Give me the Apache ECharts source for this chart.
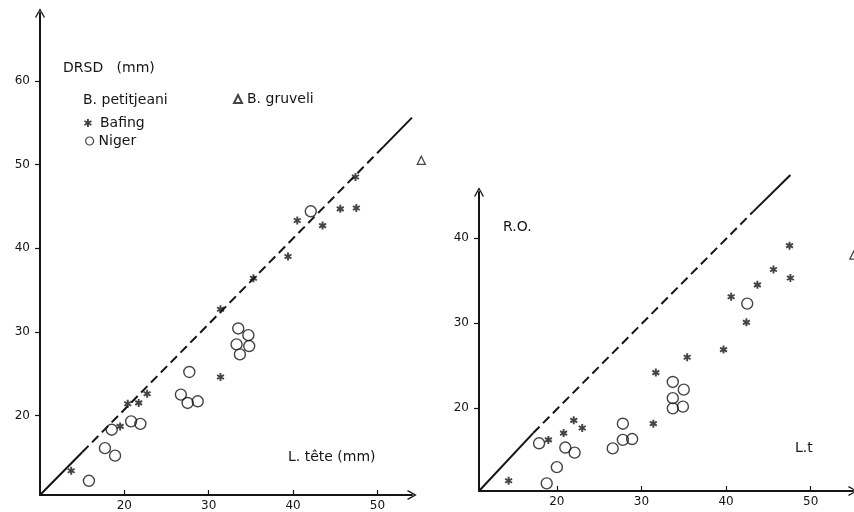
<!DOCTYPE html>
<html>
<head>
<meta charset="utf-8">
<script src="https://cdn.jsdelivr.net/npm/echarts@6/dist/echarts.min.js"></script>
<style>
  html, body { margin: 0; padding: 0; background: #fff; }
  #chart { width: 854px; height: 512px; }
</style>
</head>
<body>
<div id="chart"></div>
<script>
// values (x = L. tete, y = DRSD or R.O., mm)
const leftBafing = [[13.7, 13.4], [19.5, 18.7], [20.4, 21.4], [21.7, 21.5], [22.7, 22.6], [31.4, 24.6], [31.4, 32.7],
  [35.3, 36.4], [39.4, 39.0], [40.5, 43.3], [43.5, 42.7], [45.6, 44.7], [47.5, 44.8], [47.4, 48.5]]
const leftNiger = [[15.8, 12.2], [17.7, 16.1], [18.9, 15.2], [18.5, 18.3], [20.8, 19.3], [21.9, 19.0], [26.7, 22.5],
  [27.5, 21.5], [28.7, 21.7], [27.7, 25.2], [33.5, 30.4], [34.7, 29.6], [33.3, 28.5], [34.8, 28.3], [33.7, 27.3], [42.1, 44.4]]
const leftGruveli = [[55.2, 50.5]]

const rightBafing = [[14.3, 11.5], [19.0, 16.3], [20.8, 17.1], [22.0, 18.6], [23.0, 17.7], [31.4, 18.2], [31.7, 24.2],
  [35.4, 26.0], [39.7, 26.9], [40.6, 33.1], [42.4, 30.1], [43.7, 34.5], [45.6, 36.3], [47.5, 39.1], [47.6, 35.3]]
const rightNiger = [[18.8, 11.2], [20.0, 13.1], [17.9, 15.9], [21.0, 15.4], [22.1, 14.8], [26.6, 15.3], [27.8, 16.3],
  [28.9, 16.4], [27.8, 18.2], [33.7, 23.1], [35.0, 22.2], [33.7, 21.2], [33.7, 20.0], [34.9, 20.2], [42.5, 32.3]]
const rightGruveli = [[55.1, 38.0]]

// reference line y = x : solid start, dashed middle, solid end
const leftRefLine = [[10, 10.5], [15, 15.6], [50.7, 52.1], [54.1, 55.6]]
const rightRefLine = [[10.8, 10.3], [17.2, 17.1], [43.2, 43.1], [47.6, 47.4]]

const leftXTicks = [20, 30, 40, 50]
const leftYTicks = [20, 30, 40, 50, 60]
const rightXTicks = [20, 30, 40, 50]
const rightYTicks = [20, 30, 40]

const ink = '#151515'
const font = '"DejaVu Sans", Verdana, sans-serif'
const star = 'path://M-1.2,5 L1.2,5 L1.2,-5 L-1.2,-5 Z M3.73,3.54 L4.93,1.46 L-3.73,-3.54 L-4.93,-1.46 Z M-4.93,1.46 L-3.73,3.54 L4.93,-1.46 L3.73,-3.54 Z'
const chevron = 'path://M0,0 L5,9 L3.8,9.6 L0,2.6 L-3.8,9.6 L-5,9 Z'

function xAxisOf(gridIndex, min, max, ticks) {
  return {
    type: 'value', gridIndex: gridIndex, min: min, max: max,
    splitLine: { show: false },
    axisLine: { lineStyle: { color: ink, width: 2 }, symbol: ['none', chevron], symbolSize: [10, 10] },
    axisTick: { inside: true, length: 5, lineStyle: { color: ink, width: 1.2 }, customValues: ticks },
    axisLabel: { color: ink, fontFamily: font, fontSize: 12, margin: 5, customValues: ticks }
  }
}
function yAxisOf(gridIndex, min, max, ticks) {
  return {
    type: 'value', gridIndex: gridIndex, min: min, max: max,
    splitLine: { show: false },
    axisLine: { lineStyle: { color: ink, width: 2 }, symbol: ['none', chevron], symbolSize: [10, 10] },
    axisTick: { length: 5, lineStyle: { color: ink, width: 1.2 }, customValues: ticks },
    axisLabel: { color: ink, fontFamily: font, fontSize: 12, margin: 10, padding: [0, 0, 6, 0], customValues: ticks }
  }
}
function refSeries(idx, pts, a, b, dashed) {
  return {
    type: 'line', xAxisIndex: idx, yAxisIndex: idx, data: pts.slice(a, b + 1),
    showSymbol: false, silent: true, animation: false, clip: false,
    lineStyle: { color: ink, width: 2, type: dashed ? [9, 5] : 'solid' }
  }
}
function scatter(idx, name, data, kind) {
  const s = { type: 'scatter', name: name, xAxisIndex: idx, yAxisIndex: idx, data: data, clip: false, animation: false }
  if (kind === 'star') {
    s.symbol = star; s.symbolSize = 8; s.symbolKeepAspect = true
    s.itemStyle = { color: ink }
  } else if (kind === 'circle') {
    s.symbol = 'circle'; s.symbolSize = 11
    s.itemStyle = { color: 'transparent', borderColor: ink, borderWidth: 1.4 }
  } else {
    s.symbol = 'triangle'; s.symbolSize = 8
    s.itemStyle = { color: 'transparent', borderColor: ink, borderWidth: 1.3 }
  }
  return s
}

const legendText = { color: ink, fontFamily: font, fontSize: 14 }

const chart = echarts.init(document.getElementById('chart'))
chart.setOption({
  backgroundColor: '#fff',
  animation: false,
  grid: [
    { left: 40, top: 13, width: 372, height: 484 },
    { left: 479, top: 192, width: 374, height: 299 }
  ],
  xAxis: [xAxisOf(0, 10, 54.1, leftXTicks), xAxisOf(1, 10.8, 55, rightXTicks)],
  yAxis: [yAxisOf(0, 10.5, 68.1, leftYTicks), yAxisOf(1, 10.3, 45.4, rightYTicks)],
  legend: [
    { data: ['Bafing'], left: 84, top: 116, padding: 0, itemWidth: 14, itemHeight: 8, selectedMode: false, textStyle: legendText },
    { data: ['Niger'], left: 85, top: 134, padding: 0, itemWidth: 8, itemHeight: 8, selectedMode: false,
      itemStyle: { borderWidth: 1.2 }, textStyle: legendText },
    { data: ['B. gruveli'], left: 233, top: 92, padding: 0, itemWidth: 8, itemHeight: 8, selectedMode: false, textStyle: legendText }
  ],
  graphic: [
    { type: 'text', x: 63, y: 68, style: { text: 'DRSD   (mm)', fill: ink, font: '14px ' + font, verticalAlign: 'middle' } },
    { type: 'text', x: 83, y: 100, style: { text: 'B. petitjeani', fill: ink, font: '14px ' + font, verticalAlign: 'middle' } },
    { type: 'text', x: 288, y: 457, style: { text: 'L. tête (mm)', fill: ink, font: '14px ' + font, verticalAlign: 'middle' } },
    { type: 'text', x: 503, y: 227, style: { text: 'R.O.', fill: ink, font: '14px ' + font, verticalAlign: 'middle' } },
    { type: 'text', x: 795, y: 448, style: { text: 'L.t', fill: ink, font: '14px ' + font, verticalAlign: 'middle' } }
  ],
  series: [
    refSeries(0, leftRefLine, 0, 1, false),
    refSeries(0, leftRefLine, 1, 2, true),
    refSeries(0, leftRefLine, 2, 3, false),
    refSeries(1, rightRefLine, 0, 1, false),
    refSeries(1, rightRefLine, 1, 2, true),
    refSeries(1, rightRefLine, 2, 3, false),
    scatter(0, 'Bafing', leftBafing, 'star'),
    scatter(0, 'Niger', leftNiger, 'circle'),
    scatter(0, 'B. gruveli', leftGruveli, 'triangle'),
    scatter(1, 'Bafing', rightBafing, 'star'),
    scatter(1, 'Niger', rightNiger, 'circle'),
    scatter(1, 'B. gruveli', rightGruveli, 'triangle')
  ]
})
</script>
</body>
</html>
